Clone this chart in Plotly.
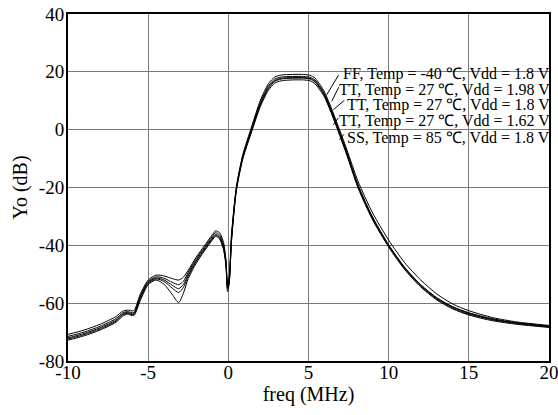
import plotly.graph_objects as go

freq = [-10, -9, -8, -7, -6.6, -6.3, -5.9, -5.5, -5.0, -4.5, -4.0, -3.5, -3.1, -2.8, -2.5, -2.0,
        -1.5, -1.0, -0.8, -0.55, -0.3, -0.15, -0.05, 0.05, 0.2, 0.5, 0.9, 1.45, 2.0, 2.5, 2.9, 3.3,
        4.0, 4.7, 5.1, 5.4, 5.75, 6.0, 6.3, 6.8, 7.4, 8.1, 9.0, 10.0, 11.0, 12.0, 13.0, 14.0, 15.0,
        16.5, 18.0, 20.0]

yo_ff = [-70.8, -69.3, -67.3, -64.6, -62.8, -62.4, -62.6, -57.0, -52.0, -50.3, -50.6, -51.5, -52.0,
         -51.0, -48.6, -44.0, -40.2, -36.3, -35.0, -35.6, -39.0, -45.0, -53.0, -51.0, -36.0, -19.8,
         -8.7, 1.0, 10.2, 15.9, 18.2, 18.9, 19.1, 19.1, 18.8, 17.9, 15.3, 13.0, 9.2, 2.0, -7.0,
         -18.0, -28.8, -38.2, -46.0, -52.0, -56.8, -60.3, -62.6, -65.0, -66.5, -67.7]

yo_tt198 = [-71.5, -70.0, -68.0, -65.3, -63.4, -62.9, -63.3, -57.6, -52.5, -50.9, -51.4, -52.8, -53.6,
            -52.4, -49.3, -44.6, -40.7, -36.9, -35.6, -36.4, -40.0, -45.5, -54.5, -52.5, -37.5, -20.2,
            -9.2, 0.4, 9.5, 15.1, 17.5, 18.2, 18.4, 18.4, 18.1, 17.2, 14.7, 12.4, 8.6, 1.4, -7.8,
            -19.2, -30.2, -39.8, -47.6, -53.6, -58.1, -61.2, -63.3, -65.4, -66.8, -67.9]

yo_tt18 = [-72.0, -70.5, -68.5, -65.8, -63.8, -63.2, -63.7, -58.0, -52.8, -51.3, -52.0, -53.8, -55.0,
           -53.5, -50.0, -45.2, -41.2, -37.4, -36.2, -37.0, -40.5, -46.0, -54.0, -52.0, -37.0, -20.5,
           -9.5, 0.0, 9.0, 14.6, 17.0, 17.8, 18.0, 18.0, 17.7, 16.8, 14.3, 12.0, 8.2, 1.0, -8.2,
           -19.5, -30.5, -40.0, -47.8, -53.8, -58.3, -61.4, -63.5, -65.6, -66.9, -68.0]

yo_tt162 = [-72.4, -70.9, -68.9, -66.2, -64.1, -63.5, -64.0, -58.6, -53.2, -51.6, -52.5, -54.8, -56.3,
            -54.5, -50.6, -45.6, -41.6, -37.8, -36.5, -37.4, -41.0, -46.5, -55.0, -53.0, -38.0, -20.8,
            -9.8, -0.3, 8.6, 14.2, 16.7, 17.5, 17.8, 17.8, 17.5, 16.5, 14.0, 11.7, 7.9, 0.6, -8.6,
            -19.9, -30.9, -40.3, -48.1, -54.1, -58.6, -61.7, -63.8, -65.8, -67.1, -68.2]

yo_ss = [-72.8, -71.3, -69.3, -66.6, -64.5, -63.8, -64.3, -59.2, -53.6, -52.0, -53.5, -57.0, -59.8,
         -56.5, -51.5, -46.2, -42.0, -38.2, -36.9, -37.8, -41.5, -47.0, -56.0, -53.5, -38.5, -21.2,
         -10.2, -0.8, 8.0, 13.6, 16.1, 16.9, 17.2, 17.2, 16.9, 15.9, 13.4, 11.2, 7.4, 0.2, -9.0,
         -20.3, -31.2, -40.6, -48.4, -54.4, -58.9, -62.0, -64.1, -66.1, -67.3, -68.4]

labels = ["FF, Temp = -40 \u2103, Vdd = 1.8 V",
          "TT, Temp = 27 \u2103, Vdd = 1.98 V",
          "TT, Temp = 27 \u2103, Vdd = 1.8 V",
          "TT, Temp = 27 \u2103, Vdd = 1.62 V",
          "SS, Temp = 85 \u2103, Vdd = 1.8 V"]
label_y = [19.3, 13.8, 8.6, 3.1, -2.8]
# leader lines: (start x, start y) near label -> (end x, end y) on curve
lead_from_x = [6.93, 6.93, 7.33, 6.93, 7.28]
lead_from_y = [19.4, 15.2, 10.6, 4.6, -1.1]
lead_to_x = [6.14, 6.45, 6.55, 6.55, 6.93]
lead_to_y = [12.1, 9.8, 6.9, 1.7, -3.5]

x_ticks = [-10, -5, 0, 5, 10, 15, 20]
x_ticktext = ["-10", "-5", "0", "5", "10", "15", "20"]
y_ticks = [-80, -60, -40, -20, 0, 20, 40]
y_ticktext = ["-80", "-60", "-40", "-20", "0", "20", "40"]

serif = "Liberation Serif, Times New Roman, serif"

fig = go.Figure()
for ys in [yo_ff, yo_tt198, yo_tt18, yo_tt162, yo_ss]:
    fig.add_trace(go.Scatter(x=freq, y=ys, mode="lines",
                             line=dict(color="black", width=1, shape="spline", smoothing=0.7),
                             showlegend=False, hoverinfo="skip"))

for txt, ly in zip(labels, label_y):
    fig.add_annotation(text=txt, xref="paper", yref="y", x=1.0, y=ly, xanchor="right",
                       yanchor="middle", showarrow=False, xshift=2, borderpad=0,
                       font=dict(family=serif, size=16, color="black"))

for fx, fy, tx, ty in zip(lead_from_x, lead_from_y, lead_to_x, lead_to_y):
    fig.add_annotation(text="", x=tx, y=ty, ax=fx, ay=fy, xref="x", yref="y",
                       axref="x", ayref="y", showarrow=True, arrowhead=0,
                       arrowwidth=1, arrowcolor="black", standoff=0, startstandoff=0)

fig.update_layout(
    width=558, height=415,
    margin=dict(l=68, r=9, t=14, b=54, autoexpand=False),
    paper_bgcolor="white", plot_bgcolor="white",
    font=dict(family=serif, color="black", size=19),
    xaxis=dict(range=[-10, 20], tickvals=x_ticks, ticktext=x_ticktext, ticks="", showgrid=True,
               gridcolor="#7a7a7a", gridwidth=1, zeroline=False, automargin=False,
               showline=True, linecolor="black", linewidth=2, mirror=True,
               ticklabeloverflow="allow", ticklabelstandoff=-7,
               tickfont=dict(family=serif, size=19, color="black"),
               title=dict(text="freq (MHz)", font=dict(family=serif, size=20, color="black"),
                          standoff=2)),
    yaxis=dict(range=[-80, 40], tickvals=y_ticks, ticktext=y_ticktext, ticks="", showgrid=True,
               gridcolor="#7a7a7a", gridwidth=1, zeroline=False, automargin=False,
               showline=True, linecolor="black", linewidth=2, mirror=True,
               ticklabeloverflow="allow", ticklabelstandoff=-2,
               tickfont=dict(family=serif, size=19, color="black"),
               title=dict(text="Yo (dB)", font=dict(family=serif, size=20, color="black"),
                          standoff=6)),
)

fig.write_html("out.html", config={"displayModeBar": False},
               post_script="document.body.style.margin='0px';")
